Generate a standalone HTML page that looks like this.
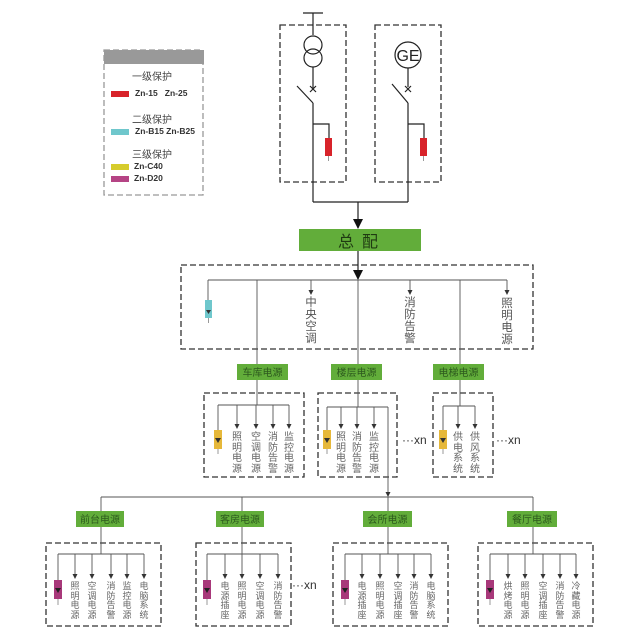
<!DOCTYPE html>
<html><head><meta charset="utf-8"><style>
body{margin:0;background:#fff;}
#w{position:relative;width:640px;height:640px;overflow:hidden;font-family:"Liberation Sans","Noto Sans CJK SC",sans-serif;}
svg{position:absolute;left:0;top:0;}
.v{position:absolute;width:12px;margin-left:-6px;text-align:center;color:#666;font-size:9px;line-height:9.5px;font-family:"Noto Sans CJK SC",sans-serif;}
.vl{font-size:11.5px;line-height:12px;width:14px;margin-left:-7px;color:#555;}
.vm{font-size:10px;line-height:10.5px;}
.g{position:absolute;background:#62ad3a;color:#2d5a1e;font-size:10px;text-align:center;font-family:"Noto Sans CJK SC",sans-serif;}
.t{position:absolute;font-size:9px;color:#333;font-family:"Noto Sans CJK SC",sans-serif;}
.xn{position:absolute;font-size:12px;color:#333;}
</style></head><body><div id="w">
<svg width="640" height="640" viewBox="0 0 640 640">
<defs>
<marker id="a" markerWidth="6" markerHeight="6" refX="3" refY="5" markerUnits="userSpaceOnUse"><path d="M0.5,1 L5.5,1 L3,6 z" fill="#333"/></marker>
<marker id="b" markerWidth="12" markerHeight="12" refX="6" refY="11" markerUnits="userSpaceOnUse"><path d="M1,2 L11,2 L6,12 z" fill="#111"/></marker>
</defs>
<g fill="none" stroke="#333" stroke-width="1.3" stroke-dasharray="6,3">
<rect x="104" y="50" width="99" height="145" stroke="#999"/>
<rect x="280" y="25" width="66" height="157"/>
<rect x="375" y="25" width="66" height="157"/>
<rect x="181" y="265" width="352" height="84"/>
<rect x="204" y="393" width="100" height="84"/>
<rect x="318" y="393" width="79" height="84"/>
<rect x="433" y="393" width="60" height="84"/>
<rect x="46" y="543" width="115" height="83"/>
<rect x="196" y="543" width="95" height="83"/>
<rect x="333" y="543" width="115" height="83"/>
<rect x="478" y="543" width="115" height="83"/>
</g>
<rect x="104" y="50" width="100" height="14" fill="#999"/>
<rect x="111" y="91" width="18" height="6" fill="#d8232a"/>
<rect x="111" y="129" width="18" height="6" fill="#6fc7cc"/>
<rect x="111" y="164" width="18" height="6" fill="#d6cc2c"/>
<rect x="111" y="176" width="18" height="6" fill="#b54485"/>
<g stroke="#222" stroke-width="1.2" fill="none">
<line x1="303" y1="13" x2="323" y2="13"/><line x1="313" y1="13" x2="313" y2="35"/>
<circle cx="313" cy="45" r="9" fill="#fff"/><circle cx="313" cy="58" r="9"/>
<line x1="313" y1="67" x2="313" y2="88"/>
<path d="M310,86 l6,6 M316,86 l-6,6"/>
<line x1="297" y1="86" x2="313" y2="103"/>
<line x1="313" y1="103" x2="313" y2="202"/>
<polyline points="313,124 329,124 329,138"/>
<circle cx="408" cy="55" r="13" fill="#fff"/>
<line x1="408" y1="68" x2="408" y2="87"/>
<path d="M405,86 l6,6 M411,86 l-6,6"/>
<line x1="392" y1="84" x2="408" y2="103"/>
<line x1="408" y1="103" x2="408" y2="202"/>
<polyline points="408,124 424,124 424,138"/>
<polyline points="313,202 408,202"/>
<line x1="358" y1="202" x2="358" y2="228" marker-end="url(#b)"/>
<line x1="358" y1="251" x2="358" y2="279" marker-end="url(#b)"/>
</g>
<text x="408" y="61" font-size="16" font-family="Liberation Sans" text-anchor="middle" fill="#222">GE</text>
<rect x="325" y="138" width="7" height="18" fill="#d8232a"/><line x1="328.5" y1="156" x2="328.5" y2="161" stroke="#999"/>
<rect x="420" y="138" width="7" height="18" fill="#d8232a"/><line x1="423.5" y1="156" x2="423.5" y2="161" stroke="#999"/>
<rect x="299" y="229" width="122" height="22" fill="#62ad3a"/>
<g stroke="#555" stroke-width="0.9" fill="none">
<line x1="208" y1="280" x2="507" y2="280"/>
<line x1="208" y1="280" x2="208" y2="300"/>
<line x1="311" y1="280" x2="311" y2="294" marker-end="url(#a)"/>
<line x1="410" y1="280" x2="410" y2="294" marker-end="url(#a)"/>
<line x1="507" y1="280" x2="507" y2="294" marker-end="url(#a)"/>
<line x1="257" y1="280" x2="257" y2="405"/>
<line x1="358" y1="280" x2="358" y2="407"/>
<line x1="460" y1="280" x2="460" y2="406"/>
<line x1="218" y1="405" x2="289" y2="405"/><line x1="218" y1="405" x2="218" y2="430"/>
<line x1="237" y1="405" x2="237" y2="428" marker-end="url(#a)"/><line x1="256" y1="405" x2="256" y2="428" marker-end="url(#a)"/>
<line x1="273" y1="405" x2="273" y2="428" marker-end="url(#a)"/><line x1="289" y1="405" x2="289" y2="428" marker-end="url(#a)"/>
<line x1="327" y1="407" x2="388" y2="407"/><line x1="327" y1="407" x2="327" y2="430"/>
<line x1="341" y1="407" x2="341" y2="428" marker-end="url(#a)"/><line x1="357" y1="407" x2="357" y2="428" marker-end="url(#a)"/>
<line x1="374" y1="407" x2="374" y2="428" marker-end="url(#a)"/>
<line x1="388" y1="407" x2="388" y2="496" marker-end="url(#a)"/>
<line x1="443" y1="406" x2="475" y2="406"/><line x1="443" y1="406" x2="443" y2="430"/>
<line x1="458" y1="406" x2="458" y2="428" marker-end="url(#a)"/><line x1="475" y1="406" x2="475" y2="428" marker-end="url(#a)"/>
<line x1="101" y1="497" x2="533" y2="497"/>
<line x1="101" y1="497" x2="101" y2="554"/><line x1="242" y1="497" x2="242" y2="554"/>
<line x1="388" y1="497" x2="388" y2="554"/><line x1="533" y1="497" x2="533" y2="554"/>
<line x1="58" y1="554" x2="144" y2="554"/><line x1="58" y1="554" x2="58" y2="580"/>
<line x1="75" y1="554" x2="75" y2="578" marker-end="url(#a)"/><line x1="92" y1="554" x2="92" y2="578" marker-end="url(#a)"/>
<line x1="111" y1="554" x2="111" y2="578" marker-end="url(#a)"/><line x1="127" y1="554" x2="127" y2="578" marker-end="url(#a)"/>
<line x1="144" y1="554" x2="144" y2="578" marker-end="url(#a)"/>
<line x1="207" y1="554" x2="278" y2="554"/><line x1="207" y1="554" x2="207" y2="580"/>
<line x1="225" y1="554" x2="225" y2="578" marker-end="url(#a)"/><line x1="242" y1="554" x2="242" y2="578" marker-end="url(#a)"/>
<line x1="260" y1="554" x2="260" y2="578" marker-end="url(#a)"/><line x1="278" y1="554" x2="278" y2="578" marker-end="url(#a)"/>
<line x1="345" y1="554" x2="431" y2="554"/><line x1="345" y1="554" x2="345" y2="580"/>
<line x1="362" y1="554" x2="362" y2="578" marker-end="url(#a)"/><line x1="380" y1="554" x2="380" y2="578" marker-end="url(#a)"/>
<line x1="398" y1="554" x2="398" y2="578" marker-end="url(#a)"/><line x1="414" y1="554" x2="414" y2="578" marker-end="url(#a)"/>
<line x1="431" y1="554" x2="431" y2="578" marker-end="url(#a)"/>
<line x1="490" y1="554" x2="576" y2="554"/><line x1="490" y1="554" x2="490" y2="580"/>
<line x1="508" y1="554" x2="508" y2="578" marker-end="url(#a)"/><line x1="525" y1="554" x2="525" y2="578" marker-end="url(#a)"/>
<line x1="543" y1="554" x2="543" y2="578" marker-end="url(#a)"/><line x1="560" y1="554" x2="560" y2="578" marker-end="url(#a)"/>
<line x1="576" y1="554" x2="576" y2="578" marker-end="url(#a)"/>
</g>
<g>
<rect x="205" y="300" width="7" height="18" fill="#6fc7cc"/><path d="M206,310 h5 l-2.5,4z" fill="#333"/><line x1="208.5" y1="318" x2="208.5" y2="323" stroke="#999"/>
<rect x="214" y="430" width="8" height="19" fill="#e6b83a"/><path d="M215,438 h6 l-3,5z" fill="#333"/><line x1="218" y1="449" x2="218" y2="454" stroke="#999"/>
<rect x="323" y="430" width="8" height="19" fill="#e6b83a"/><path d="M324,438 h6 l-3,5z" fill="#333"/><line x1="327" y1="449" x2="327" y2="454" stroke="#999"/>
<rect x="439" y="430" width="8" height="19" fill="#e6b83a"/><path d="M440,438 h6 l-3,5z" fill="#333"/><line x1="443" y1="449" x2="443" y2="454" stroke="#999"/>
<rect x="54" y="580" width="8" height="19" fill="#a8387a"/><path d="M55,588 h6 l-3,5z" fill="#222"/><line x1="58" y1="599" x2="58" y2="605" stroke="#999"/>
<rect x="203" y="580" width="8" height="19" fill="#a8387a"/><path d="M204,588 h6 l-3,5z" fill="#222"/><line x1="207" y1="599" x2="207" y2="605" stroke="#999"/>
<rect x="341" y="580" width="8" height="19" fill="#a8387a"/><path d="M342,588 h6 l-3,5z" fill="#222"/><line x1="345" y1="599" x2="345" y2="605" stroke="#999"/>
<rect x="486" y="580" width="8" height="19" fill="#a8387a"/><path d="M487,588 h6 l-3,5z" fill="#222"/><line x1="490" y1="599" x2="490" y2="605" stroke="#999"/>
</g>
</svg>
<div class="t" style="left:132px;top:68px;font-size:10px;color:#444">一级保护</div>
<div class="t" style="left:135px;top:88px;font-family:'Liberation Sans';font-weight:bold;font-size:8.5px">Zn-15&nbsp;&nbsp;&nbsp;Zn-25</div>
<div class="t" style="left:132px;top:111px;font-size:10px;color:#444">二级保护</div>
<div class="t" style="left:135px;top:126px;font-family:'Liberation Sans';font-weight:bold;font-size:8.5px">Zn-B15&nbsp;Zn-B25</div>
<div class="t" style="left:132px;top:146px;font-size:10px;color:#444">三级保护</div>
<div class="t" style="left:134px;top:161px;font-family:'Liberation Sans';font-weight:bold;font-size:8.5px">Zn-C40</div>
<div class="t" style="left:134px;top:173px;font-family:'Liberation Sans';font-weight:bold;font-size:8.5px">Zn-D20</div>
<div style="position:absolute;left:299px;top:229px;width:122px;height:22px;line-height:22px;text-align:center;font-size:16px;color:#1f3a12;font-family:'Noto Sans CJK SC',sans-serif;letter-spacing:8px;padding-left:4px;box-sizing:border-box">总配</div>
<div class="v vl" style="left:311px;top:296px">中央空调</div>
<div class="v vl" style="left:410px;top:296px">消防告警</div>
<div class="v vl" style="left:507px;top:297px">照明电源</div>
<div class="g" style="left:237px;top:364px;width:51px;height:16px;line-height:16px">车库电源</div>
<div class="g" style="left:331px;top:364px;width:51px;height:16px;line-height:16px">楼层电源</div>
<div class="g" style="left:433px;top:364px;width:51px;height:16px;line-height:16px">电梯电源</div>
<div class="v vm" style="left:237px;top:431px">照明电源</div>
<div class="v vm" style="left:256px;top:431px">空调电源</div>
<div class="v vm" style="left:273px;top:431px">消防告警</div>
<div class="v vm" style="left:289px;top:431px">监控电源</div>
<div class="v vm" style="left:341px;top:431px">照明电源</div>
<div class="v vm" style="left:357px;top:431px">消防告警</div>
<div class="v vm" style="left:374px;top:431px">监控电源</div>
<div class="v vm" style="left:458px;top:431px">供电系统</div>
<div class="v vm" style="left:475px;top:431px">供风系统</div>
<div class="xn" style="left:402px;top:433px">···xn</div>
<div class="xn" style="left:496px;top:433px">···xn</div>
<div class="xn" style="left:292px;top:578px">···xn</div>
<div class="g" style="left:76px;top:511px;width:48px;height:16px;line-height:16px">前台电源</div>
<div class="g" style="left:216px;top:511px;width:48px;height:16px;line-height:16px">客房电源</div>
<div class="g" style="left:363px;top:511px;width:49px;height:16px;line-height:16px">会所电源</div>
<div class="g" style="left:507px;top:511px;width:50px;height:16px;line-height:16px">餐厅电源</div>
<div class="v" style="left:75px;top:581px">照明电源</div>
<div class="v" style="left:92px;top:581px">空调电源</div>
<div class="v" style="left:111px;top:581px">消防告警</div>
<div class="v" style="left:127px;top:581px">监控电源</div>
<div class="v" style="left:144px;top:581px">电脑系统</div>
<div class="v" style="left:225px;top:581px">电源插座</div>
<div class="v" style="left:242px;top:581px">照明电源</div>
<div class="v" style="left:260px;top:581px">空调电源</div>
<div class="v" style="left:278px;top:581px">消防告警</div>
<div class="v" style="left:362px;top:581px">电源插座</div>
<div class="v" style="left:380px;top:581px">照明电源</div>
<div class="v" style="left:398px;top:581px">空调插座</div>
<div class="v" style="left:414px;top:581px">消防告警</div>
<div class="v" style="left:431px;top:581px">电脑系统</div>
<div class="v" style="left:508px;top:581px">烘烤电源</div>
<div class="v" style="left:525px;top:581px">照明电源</div>
<div class="v" style="left:543px;top:581px">空调插座</div>
<div class="v" style="left:560px;top:581px">消防告警</div>
<div class="v" style="left:576px;top:581px">冷藏电源</div>
</div></body></html>
